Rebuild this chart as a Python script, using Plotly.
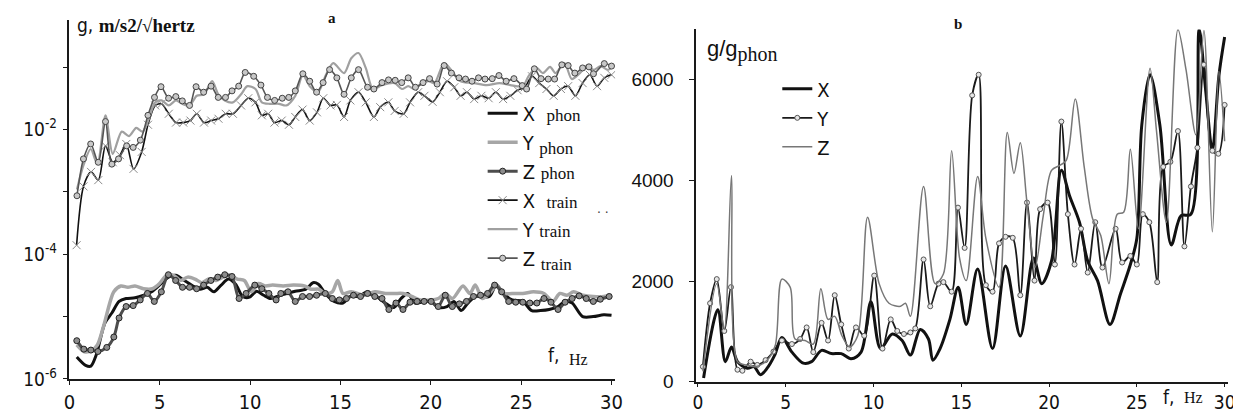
import plotly.graph_objects as go

# ---------------- Panel a : spectral density (log scale) ----------------
f_z_train = [0.42,0.78,1.18,1.6,2.0,2.35,2.72,3.17,3.53,3.93,4.35,4.71,5.07,5.49,5.89,6.25,6.65,7.01,7.43,7.84,
             8.24,8.64,9.0,9.37,9.73,10.2,10.6,10.96,11.36,11.78,12.14,12.5,12.92,13.3,13.68,14.04,14.4,14.8,15.2,15.6,
             16.0,16.5,16.85,17.3,17.66,18.03,18.39,18.75,19.15,19.57,19.93,20.35,20.74,21.14,21.56,21.92,22.28,22.64,23.0,23.4,
             23.77,24.17,24.6,25.06,25.3,25.73,26.1,26.5,26.85,27.25,27.6,27.97,28.4,28.75,29.0,29.6,30.0]
g_z_train = [8.7e-4,3.4e-3,5.9e-3,3.0e-3,1.35e-2,2.8e-3,3.4e-3,5.5e-3,5.2e-3,6.8e-3,1.7e-2,3.3e-2,4.9e-2,3.2e-2,3.4e-2,2.9e-2,2.45e-2,4.9e-2,4.0e-2,5.0e-2,
             3.3e-2,3.3e-2,4.2e-2,5.0e-2,8.3e-2,7.2e-2,5.2e-2,3.3e-2,2.95e-2,3.2e-2,3.3e-2,4.2e-2,7.9e-2,6.0e-2,4.0e-2,5.7e-2,9.2e-2,6.8e-2,3.7e-2,6.8e-2,
             9.2e-2,4.8e-2,4.5e-2,5.7e-2,6.3e-2,6.2e-2,5.7e-2,6.8e-2,4.8e-2,5.7e-2,6.6e-2,5.4e-2,0.107,8.1e-2,6.8e-2,6.5e-2,6.0e-2,6.8e-2,6.5e-2,6.6e-2,
             7.4e-2,6.0e-2,6.6e-2,5.1e-2,4.5e-2,9.5e-2,6.6e-2,6.5e-2,6.5e-2,0.11,0.107,8.1e-2,9.8e-2,0.102,7.9e-2,0.115,0.105]

f_y_train = [0.42,0.8,1.18,1.55,2.0,2.4,2.9,3.3,3.7,4.05,4.4,4.75,5.1,5.5,5.9,6.25,6.65,7.05,7.45,7.9,
             8.24,8.6,9.05,9.5,9.85,10.3,10.65,11.1,11.6,12.0,12.5,12.92,13.3,13.75,14.2,14.6,15.2,15.6,16.0,16.4,
             16.8,17.3,18.0,18.4,18.75,19.1,19.5,19.9,20.2,20.74,21.2,21.65,22.4,23.1,23.8,24.4,25.1,25.4,25.85,26.2,
             26.6,26.9,27.4,27.8,28.25,28.7,29.0,29.4,29.8,30.0]
g_y_train = [1.1e-3,2.8e-3,4.9e-3,2.8e-3,1.7e-2,4.1e-3,9.3e-3,7.9e-3,1.07e-2,9.3e-3,1.5e-2,2.75e-2,2.95e-2,2.45e-2,2.95e-2,2.6e-2,2.45e-2,3.5e-2,3.7e-2,6.0e-2,
             3.7e-2,2.95e-2,2.75e-2,3.7e-2,5.0e-2,4.5e-2,2.75e-2,2.6e-2,2.6e-2,2.45e-2,3.5e-2,7.6e-2,5.0e-2,4.0e-2,7.6e-2,0.117,8.1e-2,0.14,0.17,9.8e-2,
             4.5e-2,5.2e-2,5.6e-2,4.5e-2,5.0e-2,4.5e-2,5.6e-2,6.0e-2,5.6e-2,0.117,8.5e-2,6.0e-2,5.6e-2,5.2e-2,5.6e-2,5.2e-2,5.0e-2,7.2e-2,9.8e-2,8.1e-2,
             0.102,8.1e-2,0.117,6.5e-2,8.1e-2,0.11,9.1e-2,0.105,9.1e-2,0.1]

f_x_train = [0.4,0.78,1.2,1.6,2.0,2.4,2.8,3.15,3.55,4.0,4.35,4.75,5.1,5.5,5.9,6.3,6.7,7.05,7.45,7.85,
             8.25,8.65,9.05,9.5,9.9,10.3,10.65,11.0,11.35,11.75,12.15,12.5,12.9,13.3,13.7,14.05,14.45,14.8,15.2,15.55,
             16.0,16.4,16.85,17.2,17.65,18.0,18.5,18.85,19.3,19.65,20.1,20.5,20.9,21.3,21.65,22.0,22.4,22.8,23.2,23.6,
             24.0,24.4,24.8,25.2,25.6,26.0,26.4,26.8,27.2,27.6,28.0,28.4,28.8,29.2,29.6,30.0]
g_x_train = [1.4e-4,1.23e-3,2.1e-3,1.55e-3,5.5e-3,3.0e-3,3.9e-3,5.9e-3,2.35e-3,4.4e-3,1.2e-2,2.45e-2,2.6e-2,1.8e-2,1.3e-2,1.3e-2,1.4e-2,1.8e-2,1.3e-2,1.4e-2,
             1.5e-2,1.8e-2,1.8e-2,2.45e-2,3.2e-2,2.75e-2,1.7e-2,1.8e-2,1.3e-2,1.4e-2,1.2e-2,1.6e-2,2.1e-2,1.4e-2,1.9e-2,3.2e-2,2.45e-2,2.5e-2,1.6e-2,2.95e-2,
             4.0e-2,2.75e-2,1.6e-2,2.3e-2,2.75e-2,2.0e-2,1.8e-2,2.75e-2,4.0e-2,3.5e-2,2.8e-2,4.0e-2,6.0e-2,4.8e-2,3.5e-2,4.0e-2,3.1e-2,3.5e-2,3.2e-2,4.0e-2,
             3.1e-2,3.5e-2,4.3e-2,4.8e-2,7.2e-2,5.6e-2,4.5e-2,3.5e-2,4.5e-2,5.0e-2,3.5e-2,5.6e-2,7.6e-2,5.0e-2,6.8e-2,7.6e-2]

f_z_phon = [0.41,0.8,1.19,1.58,2.07,2.46,2.75,3.14,3.53,3.92,4.32,4.7,5.09,5.48,5.88,6.26,6.65,7.04,7.43,7.83,
            8.21,8.6,9.0,9.39,9.78,10.26,10.65,11.04,11.44,11.7,12.1,12.5,12.9,13.29,13.68,14.16,14.55,14.94,15.33,15.72,
            16.11,16.5,16.9,17.3,17.68,18.07,18.46,18.85,19.24,19.63,20.02,20.41,20.8,21.19,21.58,21.97,22.36,22.75,23.14,23.53,
            23.92,24.31,24.7,25.09,25.48,25.87,26.26,26.65,27.04,27.43,27.82,28.21,28.6,28.99,29.38,29.87]
g_z_phon = [4.1e-6,3.0e-6,2.9e-6,2.75e-6,3.2e-6,4.7e-6,9.5e-6,1.45e-5,1.5e-5,1.85e-5,2.35e-5,1.75e-5,2.5e-5,4.7e-5,3.8e-5,2.95e-5,2.95e-5,2.8e-5,3.2e-5,3.8e-5,
            4.3e-5,4.7e-5,4.4e-5,1.95e-5,2.35e-5,3.2e-5,2.8e-5,2.35e-5,1.85e-5,2.35e-5,2.5e-5,1.75e-5,2.1e-5,2.1e-5,2.2e-5,2.35e-5,1.95e-5,1.85e-5,1.95e-5,2.2e-5,
            2.1e-5,2.35e-5,2.1e-5,1.95e-5,1.3e-5,1.65e-5,1.3e-5,1.7e-5,1.75e-5,1.75e-5,1.75e-5,1.45e-5,2.2e-5,1.45e-5,1.6e-5,1.75e-5,2.1e-5,2.2e-5,2.35e-5,3.2e-5,
            2.5e-5,1.75e-5,1.7e-5,1.7e-5,1.65e-5,1.65e-5,1.95e-5,1.7e-5,1.3e-5,1.7e-5,1.95e-5,2.15e-5,1.95e-5,1.75e-5,1.9e-5,2.1e-5]

f_y_phon = [0.41,0.8,1.2,1.55,1.9,2.46,2.85,3.24,3.63,4.1,4.6,4.99,5.38,5.77,6.16,6.55,6.95,7.33,7.7,8.12,
            8.51,8.9,9.29,9.68,10.07,10.46,10.85,11.24,11.83,12.4,13.0,13.38,13.8,14.16,14.55,14.85,15.14,15.6,16.31,16.9,
            17.5,18.0,18.46,18.95,19.43,20.02,20.41,20.8,21.2,21.78,22.16,22.46,22.85,23.24,23.63,24.02,24.5,25.09,25.68,26.26,
            26.75,27.14,27.53,27.9,28.4,28.99,29.57,30.0]
g_y_phon = [3.5e-6,2.75e-6,2.8e-6,3.5e-6,7.1e-6,2.5e-5,3.1e-5,2.95e-5,3.1e-5,2.8e-5,2.8e-5,3.4e-5,4.6e-5,4.6e-5,3.8e-5,4.3e-5,4.0e-5,3.5e-5,4.0e-5,3.8e-5,
            4.3e-5,4.6e-5,4.0e-5,3.8e-5,2.5e-5,3.4e-5,3.1e-5,3.2e-5,3.1e-5,3.2e-5,3.1e-5,2.75e-5,2.75e-5,2.35e-5,2.5e-5,3.8e-5,2.35e-5,2.5e-5,2.2e-5,2.5e-5,
            2.35e-5,2.35e-5,2.35e-5,2.1e-5,1.85e-5,1.85e-5,1.95e-5,2.35e-5,1.95e-5,3.1e-5,2.35e-5,3.2e-5,1.95e-5,2.35e-5,3.1e-5,2.35e-5,2.35e-5,2.35e-5,2.5e-5,2.35e-5,
            1.75e-5,2.35e-5,2.2e-5,2.5e-5,2.2e-5,2.1e-5,2.1e-5,2.2e-5]

f_x_phon = [0.41,0.9,1.19,1.48,1.97,2.36,2.75,3.14,3.63,4.12,4.6,5.09,5.48,5.88,6.36,6.84,7.23,7.63,8.0,8.4,
            8.8,9.2,9.59,9.97,10.36,10.75,11.14,11.5,11.92,12.5,13.09,13.48,13.78,14.16,14.65,15.14,15.53,16.0,16.5,16.99,
            17.47,17.96,18.35,18.73,19.13,19.63,20.02,20.41,20.9,21.28,21.68,22.06,22.46,22.85,23.24,23.63,24.02,24.5,25.09,25.58,
            26.07,26.55,27.04,27.43,27.82,28.4,28.99,29.57,30.0]
g_x_phon = [2.25e-6,1.65e-6,1.6e-6,2.4e-6,7.9e-6,1.15e-5,1.75e-5,1.95e-5,2.0e-5,2.2e-5,2.55e-5,3.4e-5,4.3e-5,4.6e-5,3.8e-5,3.1e-5,2.75e-5,2.95e-5,2.5e-5,3.2e-5,
            4.0e-5,3.3e-5,2.1e-5,2.05e-5,2.55e-5,2.2e-5,1.95e-5,2.1e-5,2.3e-5,2.55e-5,2.75e-5,3.5e-5,3.3e-5,2.35e-5,1.75e-5,1.65e-5,2.1e-5,2.1e-5,2.5e-5,2.1e-5,
            1.65e-5,1.4e-5,1.95e-5,2.35e-5,1.65e-5,1.75e-5,1.75e-5,1.4e-5,1.45e-5,1.75e-5,1.25e-5,1.65e-5,2.1e-5,2.1e-5,2.1e-5,3.2e-5,2.35e-5,1.85e-5,1.75e-5,1.25e-5,
            1.25e-5,1.3e-5,1.45e-5,1.75e-5,1.65e-5,1.0e-5,1.0e-5,1.07e-5,1.05e-5]

# ---------------- Panel b : ratio g/g_phon ----------------
f_rx = [0.32,1.13,1.56,1.91,2.25,2.81,3.19,3.56,3.94,4.37,4.78,5.35,6.0,6.47,7.04,7.6,8.16,8.72,9.29,9.85,
        10.4,11.07,11.63,12.1,12.66,13.13,13.38,13.79,14.35,14.82,15.28,15.93,16.78,17.52,18.36,19.11,19.58,20.14,20.7,21.17,
        21.73,22.2,22.76,23.47,24.07,24.63,25.0,25.28,25.75,26.31,26.96,27.52,28.08,28.55,28.93,29.3,29.67,30.0]
r_x = [77,1430,400,690,400,270,300,140,270,530,880,590,370,400,625,560,560,460,590,1590,
       660,950,820,530,1040,850,430,660,1240,1880,1140,2240,660,2300,910,2460,1950,2400,4200,3690,
       3170,2400,2010,1140,1750,2330,2850,5100,6100,5100,2720,3300,3330,7000,5750,4590,6070,6850]

f_ry = [0.28,0.69,1.07,1.5,1.88,2.25,2.53,3.0,3.38,3.85,4.3,4.78,5.35,5.82,6.19,6.57,7.04,7.41,7.79,8.16,
        8.59,9.0,9.47,10.04,10.51,10.98,11.35,11.73,12.1,12.38,12.85,13.23,13.7,13.98,14.45,14.81,15.19,15.62,15.99,16.4,
        16.78,17.15,17.52,17.93,18.36,18.74,19.17,19.49,19.92,20.33,20.7,21.07,21.45,21.82,22.2,22.63,23.04,23.79,24.16,24.63,
        25.0,25.34,25.71,26.16,26.5,26.91,27.34,27.71,28.08,28.45,28.82,29.3,29.64,30.0]
r_y = [300,1560,2040,1010,1880,240,220,400,335,430,600,820,750,850,1080,590,1170,820,1720,1140,
       660,1080,915,2110,660,1240,1010,950,980,1060,2430,1500,1950,1980,1790,3460,2660,5690,6100,1920,
       1790,2750,2880,2860,1720,3560,2010,3430,3560,2330,5170,3330,2330,3040,2170,3170,2270,3040,2370,2500,
       2330,3330,3170,1980,4270,4370,4980,2690,3880,4650,6300,4590,4530,5500]

f_rz = [0.28,1.07,1.5,1.91,2.25,2.72,3.28,3.94,4.4,4.78,5.25,5.53,6.1,6.57,7.0,7.41,7.79,8.2,8.63,9.1,
        9.66,10.32,10.88,11.54,11.82,12.1,12.85,13.51,13.98,14.45,14.9,15.28,15.93,16.4,17.15,17.62,18.0,18.36,18.74,19.2,
        19.67,20.14,20.61,20.98,21.49,22.0,22.48,22.94,23.41,23.88,24.25,24.63,25.09,25.75,26.12,26.68,27.34,27.8,28.36,28.82,
        29.3,29.67,30.0]
r_z = [206,1950,1040,4100,400,335,300,430,720,2040,1880,850,820,750,1850,1240,1300,915,690,915,
       3270,1950,1560,1500,1560,1300,3880,1950,2140,4590,2460,2010,4080,2850,1880,4950,4140,4750,3560,2270,
       3300,4200,4300,4400,5620,4270,3240,2910,1950,3330,3370,4620,3040,6230,4980,3170,7000,6200,4910,6980,
       2980,6170,4780]

x_ticks = [0, 5, 10, 15, 20, 25, 30]
ya_tickvals = [1e-6, 1e-5, 1e-4, 1e-3, 1e-2, 1e-1]
ya_ticktext = ["10<sup>-6</sup>", "", "10<sup>-4</sup>", "", "10<sup>-2</sup>", ""]
yb_ticks = [0, 2000, 4000, 6000]

SERIF = "Liberation Serif, Times New Roman, serif"
NARROW = "Liberation Sans Narrow, DejaVu Sans Condensed, Liberation Sans, sans-serif"
SANS = "Liberation Sans, Arial, sans-serif"

def ph(word, size=17):
    return f"<span style='font-family:Liberation Serif;font-size:{size}px'>{word}</span>"

fig = go.Figure()

# Panel a traces
fig.add_trace(go.Scatter(x=f_x_phon, y=g_x_phon, mode="lines", name="X  " + ph("phon"),
                         line=dict(color="#111111", width=3, shape="spline", smoothing=0.8),
                         xaxis="x", yaxis="y", legend="legend"))
fig.add_trace(go.Scatter(x=f_y_phon, y=g_y_phon, mode="lines", name="Y <sub>" + ph("phon") + "</sub>",
                         line=dict(color="#a6a6a6", width=3.5, shape="spline", smoothing=0.8),
                         xaxis="x", yaxis="y", legend="legend"))
fig.add_trace(go.Scatter(x=f_z_phon, y=g_z_phon, mode="lines+markers", name="Z " + ph("phon"),
                         line=dict(color="#4d4d4d", width=3, shape="spline", smoothing=0.8),
                         marker=dict(symbol="circle", size=6, color="#8c8c8c", line=dict(color="#222222", width=1)),
                         xaxis="x", yaxis="y", legend="legend"))
fig.add_trace(go.Scatter(x=f_x_train, y=g_x_train, mode="lines+markers", name="X  " + ph("train"),
                         line=dict(color="#111111", width=1.6, shape="spline", smoothing=0.8),
                         marker=dict(symbol="x-thin", size=8, line=dict(color="#8a8a8a", width=1)),
                         xaxis="x", yaxis="y", legend="legend"))
fig.add_trace(go.Scatter(x=f_y_train, y=g_y_train, mode="lines", name="Y " + ph("train"),
                         line=dict(color="#a0a0a0", width=2.2, shape="spline", smoothing=0.8),
                         xaxis="x", yaxis="y", legend="legend"))
fig.add_trace(go.Scatter(x=f_z_train, y=g_z_train, mode="lines+markers", name="Z <sub>" + ph("train") + "</sub>",
                         line=dict(color="#555555", width=1.6, shape="spline", smoothing=0.8),
                         marker=dict(symbol="circle", size=6, color="#c8c8c8", line=dict(color="#444444", width=1)),
                         xaxis="x", yaxis="y", legend="legend"))

# Panel b traces
fig.add_trace(go.Scatter(x=f_rx, y=r_x, mode="lines", name="X",
                         line=dict(color="#111111", width=3, shape="spline", smoothing=0.9),
                         xaxis="x2", yaxis="y2", legend="legend2"))
fig.add_trace(go.Scatter(x=f_ry, y=r_y, mode="lines+markers", name="Y",
                         line=dict(color="#1a1a1a", width=1.8, shape="spline", smoothing=0.9),
                         marker=dict(symbol="circle", size=5, color="#e6e6e6", line=dict(color="#555555", width=1)),
                         xaxis="x2", yaxis="y2", legend="legend2"))
fig.add_trace(go.Scatter(x=f_rz, y=r_z, mode="lines", name="Z",
                         line=dict(color="#777777", width=1.5, shape="spline", smoothing=0.9),
                         xaxis="x2", yaxis="y2", legend="legend2"))

W, H = 1241, 414
def px(x):
    return x / W
def py(y):
    return 1 - y / H

axis_common = dict(showgrid=False, zeroline=False, showline=True, linecolor="#1a1a1a", linewidth=1.5,
                   ticks="outside", tickcolor="#1a1a1a")

fig.update_layout(
    width=W, height=H, margin=dict(l=0, r=0, t=0, b=0),
    paper_bgcolor="white", plot_bgcolor="white",
    xaxis=dict(domain=[px(56), px(608)], range=[0, 30.2], tickvals=x_ticks, anchor="y", ticklen=4,
               tickfont=dict(family=NARROW, size=20, color="#111"), **axis_common),
    yaxis=dict(domain=[py(381), py(12)], type="log", range=[-6, -0.234], tickvals=ya_tickvals,
               ticktext=ya_ticktext, anchor="x", ticklabelstandoff=2, ticklen=5,
               tickfont=dict(family=NARROW, size=19, color="#111"), **axis_common),
    xaxis2=dict(domain=[px(690), px(1228)], range=[-0.1, 30.2], tickvals=x_ticks, anchor="y2", ticklen=3,
                tickfont=dict(family=NARROW, size=19, color="#111"), **axis_common),
    yaxis2=dict(domain=[py(384), py(22)], range=[0, 7000], tickvals=yb_ticks, anchor="x2",
                ticklabelstandoff=12, ticklen=5,
                tickfont=dict(family=SANS, size=19, color="#111"), **axis_common),
    legend=dict(x=px(474), y=py(88), xanchor="left", yanchor="top", bgcolor="rgba(0,0,0,0)",
                font=dict(family=NARROW, size=20, color="#111"), traceorder="normal"),
    legend2=dict(x=px(772), y=py(63), xanchor="left", yanchor="top", bgcolor="rgba(0,0,0,0)",
                 font=dict(family=NARROW, size=20, color="#111"), traceorder="normal"),
    showlegend=True,
)

ann = [
    dict(text="<b>a</b>", x=px(322), y=1, yanchor="top", font=dict(family=SERIF, size=15, color="#111")),
    dict(text="<b>b</b>", x=px(955), y=py(16), font=dict(family=SERIF, size=15, color="#111")),
    dict(text="g, <b><span style='font-family:Liberation Serif;font-size:19px'>m/s2/√hertz</span></b>",
         x=px(62), y=py(17), xanchor="left", font=dict(family=NARROW, size=19, color="#111")),
    dict(text="g/g<sub>" + ph("phon", 20) + "</sub>", x=px(699), y=py(44), xanchor="left",
         font=dict(family=SANS, size=22, color="#111")),
    dict(text="f,", x=px(538), y=py(356), xanchor="left", font=dict(family=NARROW, size=19, color="#111")),
    dict(text="Hz", x=px(559), y=py(361), xanchor="left", font=dict(family=SERIF, size=16, color="#111")),
    dict(text="f,", x=px(1160), y=py(400), xanchor="left", font=dict(family=NARROW, size=19, color="#111")),
    dict(text="Hz", x=px(1181), y=py(400), xanchor="left", font=dict(family=SERIF, size=16, color="#111")),
    dict(text=". .", x=px(588), y=py(205), xanchor="left", font=dict(family=SANS, size=14, color="#444")),
]
for a in ann:
    a.update(xref="paper", yref="paper", showarrow=False)
    a.setdefault("yanchor", "middle")
    a.setdefault("xanchor", "center")
fig.update_layout(annotations=ann)

fig.write_html("out.html")
